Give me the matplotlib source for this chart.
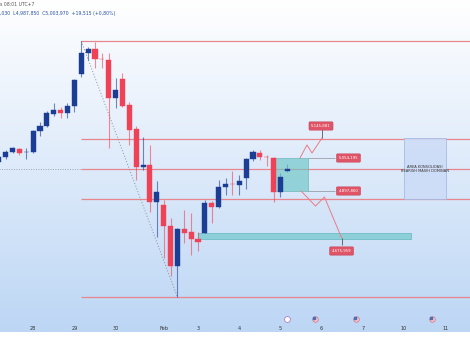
import matplotlib.pyplot as plt
import numpy as np
from matplotlib.patches import Rectangle

# 4h candles (index 0 = first visible candle)
opens = [5035300, 5058900, 5082600, 5096800, 5080700, 5082600, 5182100, 5205800,
         5262600, 5281600, 5267400, 5300500, 5452100, 5551600, 5570500, 5525000,
         5518400, 5338400, 5428400, 5305300, 5191600, 5011600, 5021000, 4845800,
         4831600, 4732100, 4542600, 4717900, 4703700, 4670500, 4698900, 4841000,
         4822100, 4916800, 4932000, 4926300, 4959500, 5049500, 5077900, 5060000,
         5054200, 4893100, 4993000]
highs = [5068400, 5092100, 5106000, 5101600, 5101600, 5186800, 5224700, 5277000,
         5314700, 5295800, 5314700, 5428400, 5608000, 5580000, 5603700, 5551600,
         5551600, 5433200, 5456800, 5319500, 5205800, 5153700, 5115800, 4945300,
         4855200, 4770000, 4722600, 4807900, 4793700, 4703700, 4855200, 4850500,
         4950000, 4959500, 4992600, 4973700, 5054200, 5092100, 5092100, 5068400,
         5058900, 4983100, 5025800]
lows = [5025800, 5049500, 5077900, 5068400, 5049500, 5077900, 5158400, 5201000,
        5253200, 5243700, 5243700, 5272100, 5437900, 5518400, 5480500, 5480500,
        5101600, 5291100, 5295800, 5115800, 4950000, 4997400, 4798400, 4680000,
        4580500, 4495200, 4395800, 4651600, 4594700, 4613700, 4698900, 4746300,
        4817400, 4878900, 4878900, 4878900, 4907400, 5040000, 5044700, 5016300,
        4845800, 4869400, 4987900]
closes = [5058900, 5082600, 5101600, 5077900, 5082600, 5182100, 5205800, 5267400,
          5281600, 5267400, 5300500, 5423700, 5551600, 5570500, 5523200, 5521000,
          5338400, 5376300, 5300500, 5186800, 5011600, 5021000, 4845800, 4893100,
          4732100, 4542600, 4717900, 4698900, 4670500, 4656300, 4841000, 4822100,
          4916800, 4931000, 4929000, 4945300, 5049500, 5082600, 5058900, 5057000,
          4893100, 4964200, 5003970]

day_pos = [5, 11, 17, 24, 29, 35, 41, 47, 53, 59, 65]
day_labels = ['28', '29', '30', 'Feb', '3', '4', '5', '6', '7', '10', '11']

levels = [5608400, 5145881, 5002100, 4860000, 4395800]
level_start = 12
grey_level = 5002100

box_x = [40.2, 45.0]
box_y = [4897860, 5054195]
target_up = 5145881
target_down = 4675959
support_x = [29.0, 60.0]
support_y = [4670500, 4699000]
consol_x = [59.0, 65.1]
consol_y = [4860000, 5148900]

zig_up_x = [43.84, 44.86, 45.59, 47.05]
zig_up_y = [5054195, 5115800, 5077900, 5148900]
zig_dn_x = [44.0, 46.1, 47.4, 49.9]
zig_dn_y = [4897860, 4826800, 4869400, 4675959]

event_x = [42, 46, 52, 63]
event_kind = ['other', 'us', 'us', 'us']

BLUE = '#1c3d94'
RED = '#ef4256'
LVL = '#e8868f'
LABEL_RED = '#e05467'

W, H = 470, 353
fig = plt.figure(figsize=(W / 100, H / 100), dpi=100, facecolor='white')

# gradient background (chart + time axis band)
bg = fig.add_axes([0, 1 - 332 / H, 1, 332 / H])
grad = np.linspace(0, 1, 256)[:, None]
top = np.array([1.0, 1.0, 1.0])
bot = np.array([0.74, 0.84, 0.96])
img = top + (bot - top) * grad[..., None]
bg.imshow(img, aspect='auto', extent=[0, 1, 0, 1], origin='upper')
bg.set_axis_off()

ax = fig.add_axes([0, 1 - 316 / H, 1, 316 / H])
ax.patch.set_alpha(0)
ax.set_xlim(0.175, 68.59)
ax.set_ylim(4305800, 5802600)
for s in ax.spines.values():
    s.set_visible(False)
ax.set_yticks([])
ax.set_xticks(day_pos)
ax.set_xticklabels(day_labels, fontsize=3.6, color='#333333')
ax.tick_params(axis='x', length=0, pad=7)

# horizontal levels
for lv in levels:
    ax.plot([level_start - 0.05, 70], [lv, lv], color=LVL, lw=0.9,
            solid_capstyle='butt', zorder=1)
ax.hlines(grey_level, -1, level_start - 0.05, color='#9aa3b0', lw=0.7,
          linestyles=(0, (1, 1.5)), zorder=1)

# diagonal dotted line high -> low
ax.plot([12, 26], [highs[12], lows[26]], color='#8a8f99', lw=0.7,
        ls=(0, (1, 2)), zorder=1)

# support zone
ax.add_patch(Rectangle((support_x[0], support_y[0]), support_x[1] - support_x[0],
                       support_y[1] - support_y[0], fc='#8dcfd8', ec='#6fbcc8',
                       lw=0.6, zorder=2))

# consolidation box
ax.add_patch(Rectangle((consol_x[0], consol_y[0]), consol_x[1] - consol_x[0],
                       consol_y[1] - consol_y[0], fc='#cddcf7', ec='#a2b7e3',
                       lw=0.6, alpha=0.9, zorder=2))
ax.text(np.mean(consol_x), np.mean(consol_y), 'AREA KONSOLIDASI\nBEARISH MASIH DOMINAN',
        fontsize=2.6, ha='center', va='center', color='#333333',
        linespacing=1.0, zorder=3)

# candles
for i in range(len(opens)):
    o, h, l, c = opens[i], highs[i], lows[i], closes[i]
    col = BLUE if c >= o else RED
    ax.vlines(i, l, h, color=col, lw=0.8, alpha=0.6, zorder=3)
    lo, hi = min(o, c), max(o, c)
    hgt = max(hi - lo, 4000)
    ax.add_patch(Rectangle((i - 0.37, lo), 0.74, hgt, fc=col, ec=col,
                           lw=0.3, zorder=4))

# projected box on the right
ax.add_patch(Rectangle((box_x[0], box_y[0]), box_x[1] - box_x[0],
                       box_y[1] - box_y[0], fc='#6cc6c6', ec='#55b0b0',
                       lw=0.6, alpha=0.65, zorder=3))
for yv in box_y:
    ax.hlines(yv, box_x[1], 49.0, color='#9aa0a8', lw=0.6, zorder=3)

# projected paths
ax.plot(zig_up_x, zig_up_y, color='#ea7c86', lw=0.7, zorder=5)
ax.plot(zig_dn_x, zig_dn_y, color='#ea7c86', lw=0.7, zorder=5)
ax.vlines(zig_up_x[-1], zig_up_y[-1], 5190000, color='#555555', lw=0.6, zorder=5)
ax.vlines(zig_dn_x[-1], target_down, 4640000, color='#555555', lw=0.6, zorder=5)


def price_label(x, y, val):
    ax.text(x, y, f'{val:,}', fontsize=2.8, color='white', ha='center',
            va='center', zorder=6,
            bbox=dict(boxstyle='round,pad=0.55,rounding_size=0.25',
                      fc=LABEL_RED, ec='#c8455a', lw=0.4))


price_label(46.9, 5205800, target_up)
price_label(50.9, box_y[1], box_y[1])
price_label(50.9, box_y[0], box_y[0])
price_label(49.9, 4613700, target_down)

# event icons in time axis band
tr = ax.get_xaxis_transform()
for ex, kind in zip(event_x, event_kind):
    if kind == 'us':
        ax.scatter([ex], [-0.01], s=16, marker='o', c='#f3c7cf', edgecolors='#d9707f',
                   linewidths=0.5, transform=tr, clip_on=False, zorder=6)
        ax.scatter([ex - 0.15], [-0.006], s=3, marker='s', c='#4a6fb5',
                   transform=tr, clip_on=False, zorder=7)
    else:
        ax.scatter([ex], [-0.01], s=18, marker='o', c='white', edgecolors='#b07ad0',
                   linewidths=0.6, transform=tr, clip_on=False, zorder=6)

# header (cut off on the left as in the screenshot)
fig.text(0.0, 1 - 4 / H, 's 08:01 UTC+7', fontsize=3.3, color='#555555',
         va='center', ha='left')
fig.text(0.0, 1 - 14 / H, ',030  L4,987,850  C5,003,970  +19,515 (+0,80%)',
         fontsize=3.3, color='#2a4fa8', va='center', ha='left')

fig.savefig('out.png', dpi=100, facecolor='white')
